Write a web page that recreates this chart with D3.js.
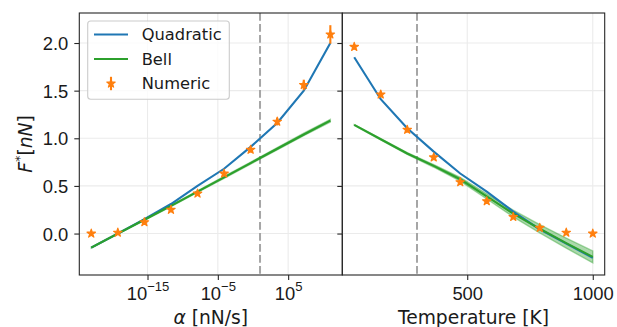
<!DOCTYPE html>
<html>
<head>
<meta charset="utf-8">
<script src="https://cdn.jsdelivr.net/npm/d3@7/dist/d3.min.js"></script>
<style>
  body { margin: 0; background: #fff; }
  svg { display: block; font-family: "DejaVu Sans", sans-serif; }
</style>
</head>
<body>
<div id="chart"></div>
<script>
// Left panel: force vs. loading rate (log x)
const alphaValues = [1e-23, 6.0e-20, 3.6e-16, 2.15e-12, 1.29e-8, 7.74e-5, 0.464, 2.78e3, 1.67e7, 1e11];
const alphaQuadratic = [-0.147, 0.0, 0.15, 0.31, 0.50, 0.68, 0.91, 1.16, 1.50, 2.0];
const alphaBell = [-0.147, 0.0, 0.145, 0.29, 0.44, 0.59, 0.74, 0.89, 1.04, 1.185];
const alphaBellBand = [0.005, 0.006, 0.007, 0.008, 0.009, 0.01, 0.011, 0.012, 0.013, 0.014];
const alphaNumeric = [0.0, 0.01, 0.12, 0.25, 0.42, 0.63, 0.88, 1.175, 1.56, 2.09];
const alphaNumericErr = [0.0, 0.01, 0.01, 0.02, 0.02, 0.03, 0.03, 0.04, 0.055, 0.097];
const alphaRef = 10;

// Right panel: force vs. temperature
const tempValues = [50, 155.6, 261.1, 366.7, 472.2, 577.8, 683.3, 788.9, 894.4, 1000];
const tempQuadratic = [1.85, 1.41, 1.105, 0.86, 0.63, 0.44, 0.23, 0.045, -0.105, -0.255];
const tempBell = [1.14, 0.99, 0.84, 0.71, 0.57, 0.39, 0.21, 0.05, -0.10, -0.245];
const tempBellBand = [0.003, 0.006, 0.01, 0.014, 0.02, 0.027, 0.035, 0.044, 0.053, 0.063];
const tempNumeric = [1.96, 1.46, 1.09, 0.80, 0.54, 0.34, 0.175, 0.06, 0.01, 0.0];
const tempNumericErr = [0.03, 0.03, 0.03, 0.03, 0.03, 0.03, 0.02, 0.02, 0.01, 0.0];
const tempRef = 300;

// Ticks
const forceTicks = [0, 0.5, 1.0, 1.5, 2.0];
const alphaTicks = [1e-15, 1e-5, 1e5];
const tempTicks = [500, 1000];

const legendLabels = ['Quadratic', 'Bell', 'Numeric'];

const width = 617, height = 327;
const plotTop = 13, plotBottom = 275;
const leftX = [79.3, 342.3], rightX = [342.3, 604.7];

const blue = '#1f77b4', green = '#2ca02c', orange = '#ff7f0e';
const spine = '#262626', gridColor = '#ebebeb';

const svg = d3.select('#chart')
  .append('svg')
  .attr('width', width)
  .attr('height', height);

const y = d3.scaleLinear().domain([-0.435, 2.315]).range([plotBottom, plotTop]);
const xL = d3.scaleLog().domain([Math.pow(10, -24.7), Math.pow(10, 12.7)]).range(leftX);
const xR = d3.scaleLinear().domain([2.5, 1047.5]).range(rightX);

const star = d3.symbol().type(d3.symbolStar).size(22);

function drawPanel(x, xs, quad, bell, band, num, err, ref, xTicks, xRange) {
  const g = svg.append('g');

  // 1. Grid
  g.selectAll('.vgrid').data(xTicks).enter().append('line')
    .attr('x1', d => x(d)).attr('x2', d => x(d))
    .attr('y1', plotTop).attr('y2', plotBottom)
    .attr('stroke', gridColor).attr('stroke-width', 1.1);
  g.selectAll('.hgrid').data(forceTicks).enter().append('line')
    .attr('x1', xRange[0]).attr('x2', xRange[1])
    .attr('y1', d => y(d)).attr('y2', d => y(d))
    .attr('stroke', gridColor).attr('stroke-width', 1.1);

  // 2. Reference dashed line
  g.append('line')
    .attr('x1', x(ref)).attr('x2', x(ref))
    .attr('y1', plotTop).attr('y2', plotBottom)
    .attr('stroke', '#a6a6a6')
    .attr('stroke-width', 2)
    .attr('stroke-dasharray', '7.7,3.3');

  const pts = xs.map((v, i) => ({ x: v, q: quad[i], b: bell[i], s: band[i], n: num[i], e: err[i] }));

  // 3. Bell uncertainty band (edge drawn like matplotlib's fill_between)
  g.append('path')
    .datum(pts)
    .attr('fill', green)
    .attr('fill-opacity', 0.4)
    .attr('stroke', green)
    .attr('stroke-opacity', 0.4)
    .attr('stroke-width', 1.4)
    .attr('d', d3.area().x(d => x(d.x)).y0(d => y(d.b - d.s)).y1(d => y(d.b + d.s)));

  // 4. Model lines
  g.append('path')
    .datum(pts)
    .attr('fill', 'none')
    .attr('stroke', blue)
    .attr('stroke-width', 2.1)
    .attr('d', d3.line().x(d => x(d.x)).y(d => y(d.q)));
  g.append('path')
    .datum(pts)
    .attr('fill', 'none')
    .attr('stroke', green)
    .attr('stroke-width', 2.1)
    .attr('d', d3.line().x(d => x(d.x)).y(d => y(d.b)));

  // 5. Numeric points with error bars
  g.selectAll('.err').data(pts).enter().append('line')
    .attr('x1', d => x(d.x)).attr('x2', d => x(d.x))
    .attr('y1', d => y(d.n - d.e)).attr('y2', d => y(d.n + d.e))
    .attr('stroke', orange).attr('stroke-width', 2.1);
  g.selectAll('.pt').data(pts).enter().append('path')
    .attr('d', star)
    .attr('transform', d => `translate(${x(d.x)},${y(d.n)})`)
    .attr('fill', orange)
    .attr('stroke', orange)
    .attr('stroke-width', 1.2)
    .attr('stroke-linejoin', 'round');

  // 6. Frame
  g.append('rect')
    .attr('x', xRange[0]).attr('y', plotTop)
    .attr('width', xRange[1] - xRange[0]).attr('height', plotBottom - plotTop)
    .attr('fill', 'none').attr('stroke', spine).attr('stroke-width', 1.1);

  return g;
}

drawPanel(xL, alphaValues, alphaQuadratic, alphaBell, alphaBellBand, alphaNumeric, alphaNumericErr,
  alphaRef, alphaTicks, leftX);
drawPanel(xR, tempValues, tempQuadratic, tempBell, tempBellBand, tempNumeric, tempNumericErr,
  tempRef, tempTicks, rightX);

function styleAxis(sel) {
  sel.select('.domain').remove();
  sel.selectAll('.tick line').attr('stroke', spine).attr('stroke-width', 1.1);
  sel.selectAll('.tick text').attr('fill', '#1a1a1a').style('font-size', '18.4px');
}

// Y axes (labels on the left panel only)
svg.append('g')
  .attr('transform', `translate(${leftX[0]},0)`)
  .call(d3.axisLeft(y).tickValues(forceTicks).tickSize(5).tickPadding(6).tickFormat(d3.format('.1f')))
  .call(styleAxis)
  .selectAll('.tick text').attr('dy', '0.36em');
svg.append('g')
  .attr('transform', `translate(${rightX[0]},0)`)
  .call(d3.axisLeft(y).tickValues(forceTicks).tickSize(5).tickFormat(''))
  .call(styleAxis);

// X axis left (log, superscript labels)
const supMinus = s => s.replace('-', '\u2212');
svg.append('g')
  .attr('transform', `translate(0,${plotBottom})`)
  .call(d3.axisBottom(xL).tickValues(alphaTicks).tickSize(5).tickFormat(''))
  .call(styleAxis)
  .selectAll('.tick text')
  .attr('y', 25).attr('dy', 0)
  .each(function(d) {
    const t = d3.select(this);
    t.append('tspan').text('10');
    t.append('tspan')
      .attr('dy', -8.7)
      .style('font-size', '13.1px')
      .text(supMinus(String(Math.round(Math.log10(d)))));
  });

// X axis right
svg.append('g')
  .attr('transform', `translate(0,${plotBottom})`)
  .call(d3.axisBottom(xR).tickValues(tempTicks).tickSize(5).tickFormat(d3.format('d')))
  .call(styleAxis)
  .selectAll('.tick text')
  .attr('y', 25).attr('dy', 0);

// Axis labels
const lbl = svg.append('g').attr('fill', '#1a1a1a').style('font-size', '18.7px');
const xl = lbl.append('text')
  .attr('x', (leftX[0] + leftX[1]) / 2).attr('y', 323.6)
  .attr('text-anchor', 'middle');
xl.append('tspan').style('font-style', 'italic').text('\u03b1');
xl.append('tspan').text(' [nN/s]');

lbl.append('text')
  .attr('x', (rightX[0] + rightX[1]) / 2).attr('y', 323.6)
  .attr('text-anchor', 'middle')
  .text('Temperature [K]');

const yl = lbl.append('text')
  .attr('transform', `translate(31.5,${(plotTop + plotBottom) / 2}) rotate(-90)`)
  .attr('text-anchor', 'middle');
yl.append('tspan').style('font-style', 'italic').text('F');
yl.append('tspan').attr('dy', -7.5).style('font-size', '13px').text('*');
yl.append('tspan').attr('dy', 7.5).text('[');
yl.append('tspan').style('font-style', 'italic').text('nN');
yl.append('tspan').text(']');

// Legend
const leg = svg.append('g');
leg.append('rect')
  .attr('x', 87.7).attr('y', 21)
  .attr('width', 141.6).attr('height', 78.3)
  .attr('rx', 3).attr('ry', 3)
  .attr('fill', '#fff').attr('fill-opacity', 0.8)
  .attr('stroke', '#cccccc').attr('stroke-width', 1.1);

const rowY = [34.5, 59, 83.5];
const legColors = [blue, green];
leg.selectAll('.lline').data(legColors).enter().append('line')
  .attr('x1', 94).attr('x2', 128)
  .attr('y1', (d, i) => rowY[i]).attr('y2', (d, i) => rowY[i])
  .attr('stroke', d => d).attr('stroke-width', 2.1);
leg.append('line')
  .attr('x1', 111).attr('x2', 111)
  .attr('y1', rowY[2] - 6.7).attr('y2', rowY[2] + 6.7)
  .attr('stroke', orange).attr('stroke-width', 2.1);
leg.append('path')
  .attr('d', star)
  .attr('transform', `translate(111,${rowY[2]})`)
  .attr('fill', orange)
  .attr('stroke', orange)
  .attr('stroke-width', 1.2)
  .attr('stroke-linejoin', 'round');
leg.selectAll('.ltext').data(legendLabels).enter().append('text')
  .attr('x', 141.7)
  .attr('y', (d, i) => rowY[i])
  .attr('dy', '0.36em')
  .attr('fill', '#1a1a1a')
  .style('font-size', '16.3px')
  .text(d => d);
</script>
</body>
</html>
